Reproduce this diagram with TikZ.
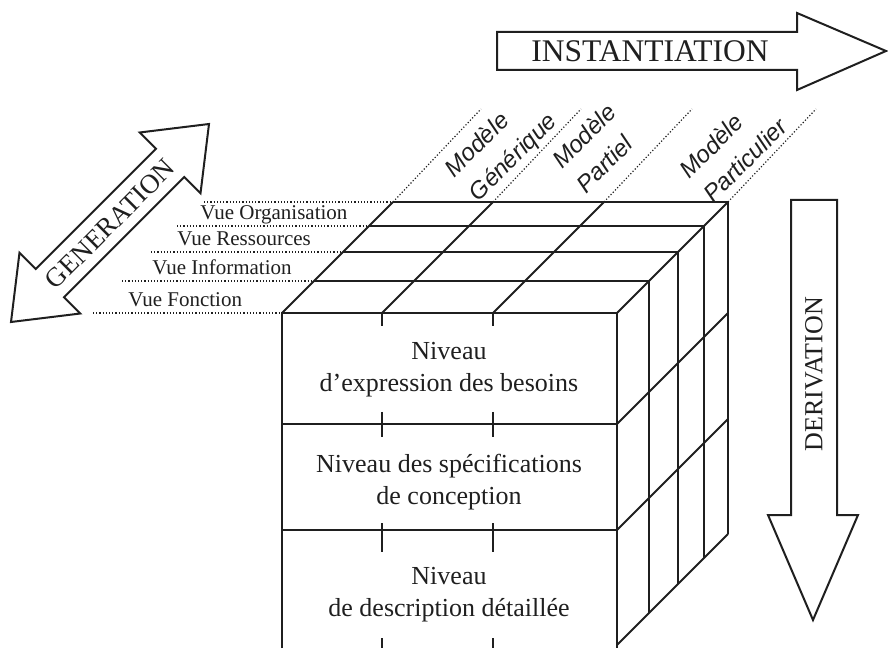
\documentclass[tikz,border=0pt]{standalone}
\usepackage{fontspec}
\setmainfont{Liberation Serif}
\newfontfamily\modelfont{Liberation Sans}
\usetikzlibrary{positioning}
\definecolor{inkdrk}{gray}{0.12}

\begin{document}
\begin{tikzpicture}[x=0.5pt, y=0.5pt,
	edge/.style={inkdrk, line width=1pt},
	guide/.style={inkdrk, densely dotted, line width=0.6pt},
	blockarrow/.style={inkdrk, line width=1pt, fill=white, line join=miter},
	niveau/.style={inkdrk, align=center, font=\fontsize{13}{16}\selectfont},
	vue/.style={inkdrk, anchor=base west, inner sep=0pt, font=\fontsize{10.5}{12}\selectfont},
	modele/.style={inkdrk, align=left, rotate=45, inner sep=0pt, font=\modelfont\itshape\fontsize{12}{17}\selectfont}]
	\useasboundingbox (0,0) rectangle (888,648);

	% front face of the cube
	\draw[edge] (282,0) -- (282,335) -- (617,335) -- (617,0);
	\draw[edge] (282,224) -- (617,224);
	\draw[edge] (282,118) -- (617,118);
	\foreach \x in {382,493} {
		\draw[edge] (\x,335) -- (\x,322);
		\draw[edge] (\x,236) -- (\x,211);
		\draw[edge] (\x,125) -- (\x,96);
		\draw[edge] (\x,10) -- (\x,0);
	}

	% views, top and right faces
	\foreach \d in {32,61,87,111}
		\draw[edge] (282+\d,335+\d) -- (617+\d,335+\d) -- (617+\d,3+\d);
	\foreach \x in {282,382,493,617}
		\draw[edge] (\x,335) -- ++(111,111);
	\foreach \y in {224,118,3}
		\draw[edge] (617,\y) -- ++(111,111);

	% guides
	\foreach \d/\s in {111/204, 87/177, 61/151, 32/122, 0/93}
		\draw[guide] (\s,335+\d) -- (282+\d,335+\d);
	\foreach \x in {393,493,604,728}
		\draw[guide] (\x,446) -- ++(88,93);

	\node[vue] (vorg) at (200,428) {Vue Organisation};
	\node[vue] (vres) at (177,402) {Vue Ressources};
	\node[vue] (vinf) at (152,373) {Vue Information};
	\node[vue] (vfct) at (128,341) {Vue Fonction};

	\node[modele] (mgen) at (502,502) {Modèle\\Générique};
	\node[modele] (mpar) at (596,500) {Modèle\\Partiel};
	\node[modele] (mpart) at (733,500) {Modèle\\Particulier};

	\node[niveau] (besoins) at (449,278) {Niveau\\d'expression des besoins};
	\node[niveau] (specs) at (449,166) {Niveau des spécifications\\de conception};
	\node[niveau] (detail) at (449,53) {Niveau\\de description détaillée};

	% block arrows
	\draw[blockarrow] (497,578) -- (497,616) -- (797,616) -- (797,635) -- (886,597) -- (797,558) -- (797,578) -- cycle;
	\node[inkdrk, font=\fontsize{15.75}{18}\selectfont] (inst) at (650,597) {INSTANTIATION};

	\draw[blockarrow] (791,448) -- (837,448) -- (837,133) -- (858,133) -- (813,28) -- (768,133) -- (791,133) -- cycle;
	\node[inkdrk, rotate=90, font=\fontsize{13}{16}\selectfont] (deriv) at (814,274) {DERIVATION};

	\begin{scope}[shift={(110,425)}, rotate=45]
		\draw[blockarrow] (140,0) -- (85,43) -- (85,20) -- (-85,20) -- (-85,43) -- (-140,0) -- (-85,-43) -- (-85,-20) -- (85,-20) -- (85,-43) -- cycle;
	\end{scope}
	\node[inkdrk, rotate=45, font=\fontsize{13.5}{16}\selectfont] (gen) at (110,424) {GENERATION};

\end{tikzpicture}
\end{document}
